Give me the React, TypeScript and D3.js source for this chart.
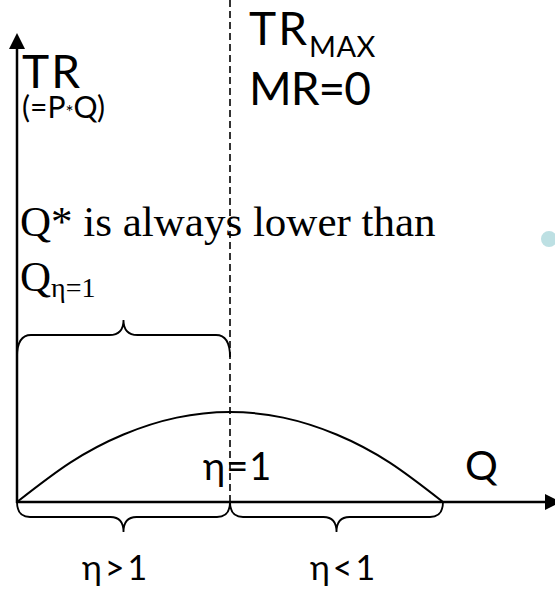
import React from "react";
import * as d3 from "d3";

// Total revenue TR = P·Q along a linear demand curve P = 8 − Q
const quantities = [0, 1, 2, 3, 4, 5, 6, 7, 8];
const revenues = [0, 7, 12, 15, 16, 15, 12, 7, 0];
const unitElasticQ = 4;
const qMax = 8;
const trPeak = 16;

const W = 555;
const H = 589;

const SANS = "Lato, 'Noto Sans', 'DejaVu Sans', sans-serif";
const SERIF = "'Liberation Serif', 'Times New Roman', serif";

// Curly brace from (x0, y0) to (x1, y0); dir = 1 points down, -1 points up
function bracePath(x0: number, x1: number, y0: number, dir: number, h: number, tip: number, r: number) {
  const xm = (x0 + x1) / 2;
  const yh = y0 + dir * h;
  const yt = yh + dir * tip;
  return [
    `M${x0},${y0}`,
    `Q${x0},${yh} ${x0 + r},${yh}`,
    `L${xm - r},${yh}`,
    `Q${xm},${yh} ${xm},${yt}`,
    `Q${xm},${yh} ${xm + r},${yh}`,
    `L${x1 - r},${yh}`,
    `Q${x1},${yh} ${x1},${y0}`,
  ].join(" ");
}

export default function App() {
  const x = d3.scaleLinear().domain([0, qMax]).range([17, 443]);
  const y = d3.scaleLinear().domain([0, trPeak]).range([502, 412]);

  const pts = quantities.map((q, i) => [q, revenues[i]] as [number, number]);
  const trLine = d3
    .line<[number, number]>()
    .x((d) => x(d[0]))
    .y((d) => y(d[1]))
    .curve(d3.curveNatural);

  const x0 = x(0);
  const xu = x(unitElasticQ);
  const xe = x(qMax);
  const y0 = y(0);

  return (
    <svg
      width={W}
      height={H}
      viewBox={`0 0 ${W} ${H}`}
      style={{ position: "absolute", left: 0, top: 0, background: "#fff" }}
    >
      {/* vertical dashed line at the revenue maximum */}
      <line x1={xu} x2={xu} y1={0} y2={y0} stroke="#000" strokeWidth={1.6} strokeDasharray="7,4" />

      {/* axes */}
      <line x1={x0} x2={x0} y1={y0 + 1} y2={47} stroke="#000" strokeWidth={2.5} />
      <path d={`M${x0},33 L${x0 - 8},49 L${x0 + 8},49 Z`} fill="#000" />
      <line x1={x0 - 1} x2={546} y1={y0} y2={y0} stroke="#000" strokeWidth={2.5} />
      <path d={`M561,${y0} L545,${y0 - 8} L545,${y0 + 8} Z`} fill="#000" />

      {/* TR curve */}
      <path d={trLine(pts) ?? ""} fill="none" stroke="#000" strokeWidth={2} />

      {/* braces */}
      <path d={bracePath(x0, xu, 357, -1, 22, 15, 14)} fill="none" stroke="#000" strokeWidth={1.8} />
      <path d={bracePath(x0, xu, y0, 1, 15, 15, 13)} fill="none" stroke="#000" strokeWidth={1.8} />
      <path d={bracePath(xu, xe, y0, 1, 15, 15, 13)} fill="none" stroke="#000" strokeWidth={1.8} />

      {/* y-axis label, two lines */}
      <text x={22} y={88} fontFamily={SANS} fontSize={46} fill="#000">
        <tspan letterSpacing={2}>TR</tspan>
        <tspan x={22} dy={30} fontSize={30}>(=P</tspan>
        <tspan fontSize={19} dy={1}>*</tspan>
        <tspan fontSize={30} dy={-1}>Q)</tspan>
      </text>

      {/* maximum label */}
      <text x={249} y={45} fontFamily={SANS} fontSize={46} fill="#000">
        <tspan letterSpacing={2}>TR</tspan><tspan fontSize={29} dy={12} letterSpacing={0.5}>MAX</tspan>
      </text>
      <text x={249} y={105} fontFamily={SANS} fontSize={46} letterSpacing={-1} fill="#000">MR=0</text>

      {/* note */}
      <text x={20} y={236} fontFamily={SERIF} fontSize={43} fill="#000">Q* is always lower than</text>
      <text x={20} y={291} fontFamily={SERIF} fontSize={43} fill="#000">
        Q<tspan fontSize={28} dy={6}>η=1</tspan>
      </text>

      {/* axis and region labels */}
      <text x={203} y={480} fontFamily={SANS} fontSize={38} letterSpacing={1} fill="#000">η=1</text>
      <text x={465} y={480} fontFamily={SANS} fontSize={41} fill="#000">Q</text>
      <text x={82} y={580} fontFamily={SANS} fontSize={34} letterSpacing={3} fill="#000">η&gt;1</text>
      <text x={310} y={580} fontFamily={SANS} fontSize={34} letterSpacing={3} fill="#000">η&lt;1</text>

      {/* bullet */}
      <circle cx={549} cy={239} r={8} fill="#bde0e3" />
    </svg>
  );
}
